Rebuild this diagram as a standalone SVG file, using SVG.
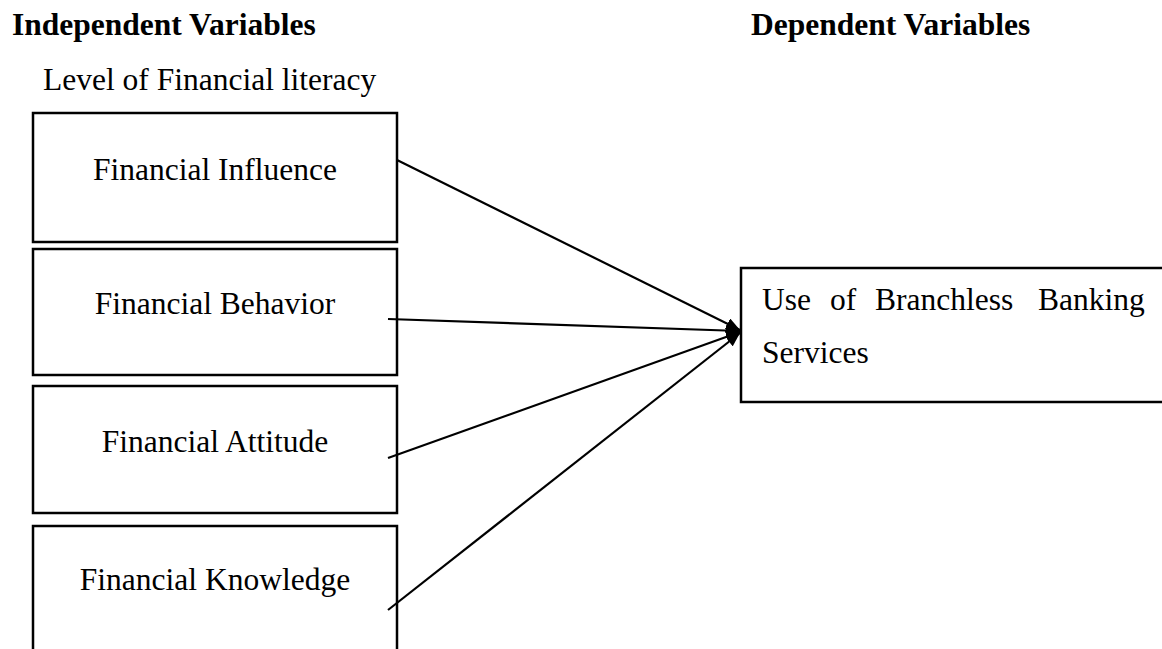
<svg xmlns="http://www.w3.org/2000/svg" width="1162" height="649" viewBox="0 0 1162 649">
<style>
text{font-family:"Liberation Serif","Times New Roman",serif;font-size:31.5px;fill:#000}
.h{font-weight:bold}
.box{fill:#fff;stroke:#000;stroke-width:2.5}
.c{stroke:#000;stroke-width:2.2;fill:none}
</style>
<defs>
<marker id="ah" viewBox="0 0 14 12" refX="14" refY="6" markerWidth="14" markerHeight="12" markerUnits="userSpaceOnUse" orient="auto">
<path d="M0,0 L14,6 L0,12 Z" fill="#000"/>
</marker>
</defs>
<rect width="1162" height="649" fill="#fff"/>
<text class="h" x="12" y="35">Independent Variables</text>
<text class="h" x="751" y="35">Dependent Variables</text>
<text x="43" y="90">Level of Financial literacy</text>
<g id="n1"><rect class="box" x="33" y="113" width="364" height="129"/><text x="215" y="180" text-anchor="middle">Financial Influence</text></g>
<g id="n2"><rect class="box" x="33" y="249" width="364" height="126"/><text x="215" y="314" text-anchor="middle">Financial Behavior</text></g>
<g id="n3"><rect class="box" x="33" y="386" width="364" height="127"/><text x="215" y="452" text-anchor="middle">Financial Attitude</text></g>
<g id="n4"><rect class="box" x="33" y="526" width="364" height="140"/><text x="215" y="590" text-anchor="middle">Financial Knowledge</text></g>
<g id="n5"><rect class="box" x="741" y="268" width="430" height="134"/>
<text y="310"><tspan x="762">Use</tspan><tspan x="830">of</tspan><tspan x="875">Branchless</tspan><tspan x="1038">Banking</tspan></text>
<text x="762" y="363">Services</text></g>
<g id="connectors">
<line class="c" x1="397" y1="160" x2="740" y2="330" marker-end="url(#ah)"/>
<line class="c" x1="388" y1="319" x2="740" y2="331" marker-end="url(#ah)"/>
<line class="c" x1="388" y1="458" x2="740" y2="332" marker-end="url(#ah)"/>
<line class="c" x1="388" y1="610" x2="740" y2="333" marker-end="url(#ah)"/>
</g>
</svg>
